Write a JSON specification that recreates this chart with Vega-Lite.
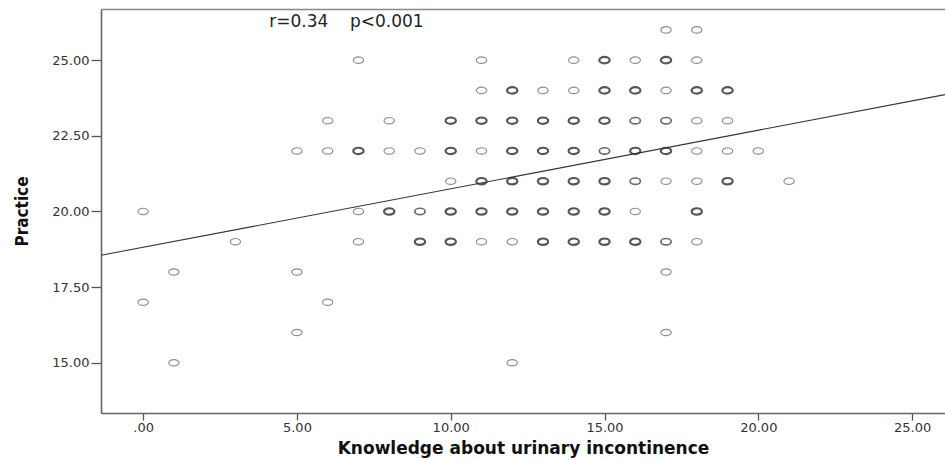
{
  "$schema": "https://vega.github.io/schema/vega-lite/v6.json",
  "autosize": {"type": "none"},
  "padding": {"left": 101, "top": 9, "right": 0, "bottom": 47},
  "width": 844,
  "height": 404,
  "background": "white",
  "view": {"stroke": null},
  "config": {
    "font": "DejaVu Sans",
    "axis": {
      "domainColor": "#666",
      "domainWidth": 1.6,
      "tickColor": "#555",
      "tickWidth": 1.3,
      "labelFont": "DejaVu Sans",
      "labelFontSize": 13,
      "labelColor": "#333",
      "grid": false
    }
  },
  "data": {
    "values": [
      {"knowledge": 17, "practice": 26, "n": 1},
      {"knowledge": 18, "practice": 26, "n": 1},
      {"knowledge": 7, "practice": 25, "n": 1},
      {"knowledge": 11, "practice": 25, "n": 1},
      {"knowledge": 14, "practice": 25, "n": 1},
      {"knowledge": 15, "practice": 25, "n": 3},
      {"knowledge": 16, "practice": 25, "n": 1},
      {"knowledge": 17, "practice": 25, "n": 3},
      {"knowledge": 18, "practice": 25, "n": 1},
      {"knowledge": 11, "practice": 24, "n": 1},
      {"knowledge": 12, "practice": 24, "n": 3},
      {"knowledge": 13, "practice": 24, "n": 1},
      {"knowledge": 14, "practice": 24, "n": 1},
      {"knowledge": 15, "practice": 24, "n": 3},
      {"knowledge": 16, "practice": 24, "n": 3},
      {"knowledge": 17, "practice": 24, "n": 1},
      {"knowledge": 18, "practice": 24, "n": 3},
      {"knowledge": 19, "practice": 24, "n": 3},
      {"knowledge": 6, "practice": 23, "n": 1},
      {"knowledge": 8, "practice": 23, "n": 1},
      {"knowledge": 10, "practice": 23, "n": 3},
      {"knowledge": 11, "practice": 23, "n": 3},
      {"knowledge": 12, "practice": 23, "n": 3},
      {"knowledge": 13, "practice": 23, "n": 3},
      {"knowledge": 14, "practice": 23, "n": 3},
      {"knowledge": 15, "practice": 23, "n": 3},
      {"knowledge": 16, "practice": 23, "n": 2},
      {"knowledge": 17, "practice": 23, "n": 2},
      {"knowledge": 18, "practice": 23, "n": 1},
      {"knowledge": 19, "practice": 23, "n": 1},
      {"knowledge": 5, "practice": 22, "n": 1},
      {"knowledge": 6, "practice": 22, "n": 1},
      {"knowledge": 7, "practice": 22, "n": 3},
      {"knowledge": 8, "practice": 22, "n": 1},
      {"knowledge": 9, "practice": 22, "n": 1},
      {"knowledge": 10, "practice": 22, "n": 3},
      {"knowledge": 11, "practice": 22, "n": 1},
      {"knowledge": 12, "practice": 22, "n": 3},
      {"knowledge": 13, "practice": 22, "n": 3},
      {"knowledge": 14, "practice": 22, "n": 3},
      {"knowledge": 15, "practice": 22, "n": 2},
      {"knowledge": 16, "practice": 22, "n": 3},
      {"knowledge": 17, "practice": 22, "n": 3},
      {"knowledge": 18, "practice": 22, "n": 1},
      {"knowledge": 19, "practice": 22, "n": 1},
      {"knowledge": 20, "practice": 22, "n": 1},
      {"knowledge": 10, "practice": 21, "n": 1},
      {"knowledge": 11, "practice": 21, "n": 3},
      {"knowledge": 12, "practice": 21, "n": 3},
      {"knowledge": 13, "practice": 21, "n": 3},
      {"knowledge": 14, "practice": 21, "n": 3},
      {"knowledge": 15, "practice": 21, "n": 3},
      {"knowledge": 16, "practice": 21, "n": 2},
      {"knowledge": 17, "practice": 21, "n": 1},
      {"knowledge": 18, "practice": 21, "n": 1},
      {"knowledge": 19, "practice": 21, "n": 3},
      {"knowledge": 21, "practice": 21, "n": 1},
      {"knowledge": 0, "practice": 20, "n": 1},
      {"knowledge": 7, "practice": 20, "n": 1},
      {"knowledge": 8, "practice": 20, "n": 3},
      {"knowledge": 9, "practice": 20, "n": 2},
      {"knowledge": 10, "practice": 20, "n": 3},
      {"knowledge": 11, "practice": 20, "n": 3},
      {"knowledge": 12, "practice": 20, "n": 3},
      {"knowledge": 13, "practice": 20, "n": 3},
      {"knowledge": 14, "practice": 20, "n": 3},
      {"knowledge": 15, "practice": 20, "n": 3},
      {"knowledge": 16, "practice": 20, "n": 1},
      {"knowledge": 18, "practice": 20, "n": 3},
      {"knowledge": 3, "practice": 19, "n": 1},
      {"knowledge": 7, "practice": 19, "n": 1},
      {"knowledge": 9, "practice": 19, "n": 3},
      {"knowledge": 10, "practice": 19, "n": 3},
      {"knowledge": 11, "practice": 19, "n": 1},
      {"knowledge": 12, "practice": 19, "n": 1},
      {"knowledge": 13, "practice": 19, "n": 3},
      {"knowledge": 14, "practice": 19, "n": 3},
      {"knowledge": 15, "practice": 19, "n": 3},
      {"knowledge": 16, "practice": 19, "n": 3},
      {"knowledge": 17, "practice": 19, "n": 2},
      {"knowledge": 18, "practice": 19, "n": 1},
      {"knowledge": 1, "practice": 18, "n": 1},
      {"knowledge": 5, "practice": 18, "n": 1},
      {"knowledge": 17, "practice": 18, "n": 1},
      {"knowledge": 0, "practice": 17, "n": 1},
      {"knowledge": 6, "practice": 17, "n": 1},
      {"knowledge": 5, "practice": 16, "n": 1},
      {"knowledge": 17, "practice": 16, "n": 1},
      {"knowledge": 1, "practice": 15, "n": 1},
      {"knowledge": 12, "practice": 15, "n": 1}
    ]
  },
  "layer": [
    {
      "mark": {
        "type": "point",
        "filled": false,
        "shape": "M -1 0 A 1 0.62 0 1 1 1 0 A 1 0.62 0 1 1 -1 0 Z",
        "size": 106
      },
      "encoding": {
        "x": {
          "field": "knowledge",
          "type": "quantitative",
          "scale": {"domain": [-1.37, 26.07], "nice": false, "zero": false},
          "axis": {
            "values": [0, 5, 10, 15, 20, 25],
            "labelExpr": "datum.value == 0 ? '.00' : format(datum.value, '.2f')",
            "tickSize": 7,
            "labelPadding": 1,
            "title": "Knowledge about urinary incontinence",
            "titleFont": "DejaVu Sans",
            "titleFontSize": 17,
            "titleFontWeight": "bold",
            "titleColor": "#111",
            "titlePadding": 6
          }
        },
        "y": {
          "field": "practice",
          "type": "quantitative",
          "scale": {"domain": [13.34, 26.69], "nice": false, "zero": false},
          "axis": {
            "values": [15, 17.5, 20, 22.5, 25],
            "format": ".2f",
            "tickSize": 10,
            "labelPadding": 2,
            "title": "Practice",
            "titleFont": "Liberation Sans Narrow, DejaVu Sans Condensed, sans-serif",
            "titleFontSize": 17,
            "titleFontWeight": "bold",
            "titleColor": "#111",
            "titlePadding": 20
          }
        },
        "color": {
          "field": "n",
          "type": "ordinal",
          "scale": {"domain": [1, 2, 3], "range": ["#5e5e5e", "#2e2e2e", "#0e0e0e"]},
          "legend": null
        },
        "strokeWidth": {
          "field": "n",
          "type": "quantitative",
          "scale": {"domain": [1, 3], "range": [1.2, 2.2]},
          "legend": null
        }
      }
    },
    {
      "data": {"values": [
        {"knowledge": -1.37, "practice": 18.55},
        {"knowledge": 26.07, "practice": 23.86}
      ]},
      "mark": {"type": "line", "color": "#333", "strokeWidth": 1.1},
      "encoding": {
        "x": {
          "field": "knowledge",
          "type": "quantitative",
          "axis": {"orient": "top", "labels": false, "ticks": false, "title": null, "domainColor": "#888", "domainWidth": 1.6}
        },
        "y": {"field": "practice", "type": "quantitative"}
      }
    },
    {
      "data": {"values": [{"label": "r=0.34\u00a0\u00a0\u00a0\u00a0p<0.001"}]},
      "mark": {"type": "text", "align": "left", "baseline": "alphabetic", "font": "DejaVu Sans", "fontSize": 17, "color": "#222"},
      "encoding": {
        "x": {"datum": 4.1, "axis": null},
        "y": {"datum": 26.09},
        "text": {"field": "label"}
      }
    }
  ],
  "resolve": {"axis": {"x": "independent"}}
}
